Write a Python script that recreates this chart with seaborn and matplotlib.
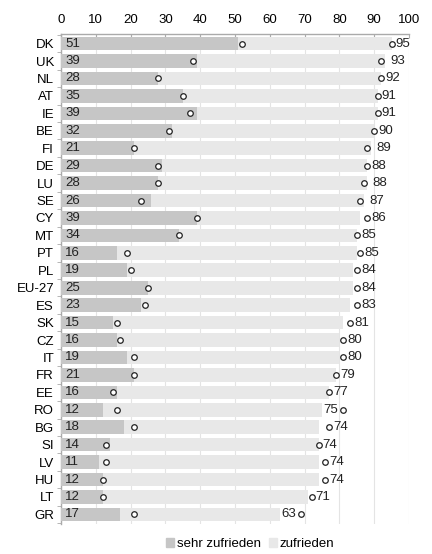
import pandas as pd
import seaborn as sns
import matplotlib.pyplot as plt
from matplotlib.patches import Patch

countries = ["DK", "UK", "NL", "AT", "IE", "BE", "FI", "DE", "LU", "SE", "CY", "MT", "PT", "PL",
             "EU-27", "ES", "SK", "CZ", "IT", "FR", "EE", "RO", "BG", "SI", "LV", "HU", "LT", "GR"]
sehr = [51, 39, 28, 35, 39, 32, 21, 29, 28, 26, 39, 34, 16, 19,
        25, 23, 15, 16, 19, 21, 16, 12, 18, 14, 11, 12, 12, 17]
total = [95, 93, 92, 91, 91, 90, 89, 88, 88, 87, 86, 85, 85, 84,
         84, 83, 81, 80, 80, 79, 77, 75, 74, 74, 74, 74, 71, 63]
# earlier values (circles)
sehr_prev = [52, 38, 28, 35, 37, 31, 21, 28, 28, 23, 39, 34, 19, 20,
             25, 24, 16, 17, 21, 21, 15, 16, 21, 13, 13, 12, 12, 21]
total_prev = [95, 92, 92, 91, 91, 90, 88, 88, 87, 86, 88, 85, 86, 85,
              85, 85, 83, 81, 81, 79, 77, 81, 77, 74, 76, 76, 72, 69]

df = pd.DataFrame({"land": countries, "sehr": sehr, "total": total,
                   "sehr_prev": sehr_prev, "total_prev": total_prev})

plt.rcParams["font.family"] = ["Liberation Sans", "DejaVu Sans"]
fig = plt.figure(figsize=(4.32, 5.54), dpi=100)
ax = fig.add_axes([61 / 432, 1 - 524 / 554, 348 / 432, 490 / 554])

dark = "#c6c6c6"
light = "#e8e8e8"
sns.barplot(data=df, x="total", y="land", orient="h", color=light, width=0.78,
            saturation=1, ax=ax, zorder=2)
sns.barplot(data=df, x="sehr", y="land", orient="h", color=dark, width=0.78,
            saturation=1, ax=ax, zorder=3)

for col in ["sehr_prev", "total_prev"]:
    ax.scatter(df[col], range(len(df)), s=16, facecolor="white", edgecolor="#222222",
               linewidth=0.9, zorder=5)

for i, r in df.iterrows():
    ax.text(1.2, i, str(r["sehr"]), va="center", ha="left", fontsize=9.5, color="#222222", zorder=6)
    lx = r["total"] + 1.6
    if r["total_prev"] > r["total"] + 3:
        lx = r["total"] + 0.4
    elif r["total_prev"] >= r["total"] - 0.5:
        lx = r["total_prev"] + 1.2
    ax.text(lx, i, str(r["total"]), va="center", ha="left", fontsize=9.5, color="#222222", zorder=6)

ax.set_xlim(0, 100)
ax.set_ylim(len(df) - 0.45, -0.55)
ax.xaxis.tick_top()
ax.set_xticks(range(0, 101, 10))
ax.tick_params(axis="x", direction="in", length=3, color="#aaaaaa", labelsize=9.5, pad=6)
ax.tick_params(axis="y", length=0, labelsize=9.5, pad=5)
ax.set_yticks([i - 0.5 for i in range(len(df) + 1)], minor=True)
ax.tick_params(axis="y", which="minor", length=3, color="#aaaaaa")
ax.set_xlabel("")
ax.set_ylabel("")
ax.grid(axis="x", color="#e4e4e4", linewidth=0.8, zorder=0)
ax.set_axisbelow(True)
for s in ["right", "bottom"]:
    ax.spines[s].set_visible(False)
for s in ["top", "left"]:
    ax.spines[s].set_color("#aaaaaa")
    ax.spines[s].set_linewidth(1)

handles = [Patch(color=dark, label="sehr zufrieden"), Patch(color=light, label="zufrieden")]
fig.legend(handles=handles, loc="center", bbox_to_anchor=(250 / 432, 1 - 544 / 554), ncol=2,
           frameon=False, fontsize=9.5, handlelength=0.6, handleheight=0.6, handletextpad=0.2,
           columnspacing=0.6)

fig.savefig("out.png", dpi=100)
